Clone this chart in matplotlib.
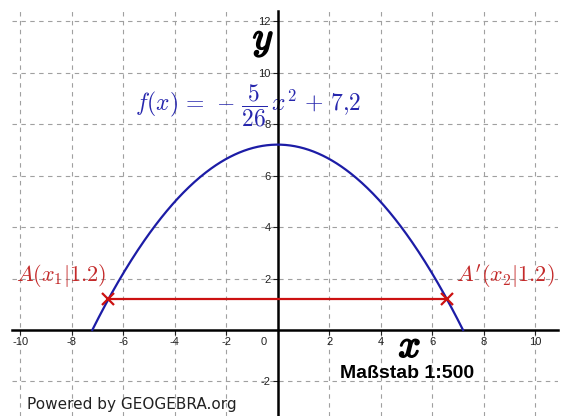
import numpy as np
import matplotlib.pyplot as plt
import matplotlib.patheffects as pe

plt.rcParams['mathtext.fontset'] = 'cm'

# parabola f(x) = -a*x^2 + c, and the horizontal chord at height y_level
a = 5 / 36
c = 7.2
y_level = 1.2

x_ticks = [-10, -8, -6, -4, -2, 2, 4, 6, 8, 10]
y_ticks = [-2, 2, 4, 6, 8, 10, 12]

blue = '#1c1ca6'
red = '#cc1111'
grid_gray = '#a0a0a0'

fig = plt.figure(figsize=(5.62, 4.16), dpi=100)
ax = fig.add_axes([12 / 562, 0, 546 / 562, 405 / 416])
ax.set_xlim(-10.32, 10.89)
ax.set_ylim(-3.34, 12.39)

# axes through the origin
for side in ['top', 'right']:
    ax.spines[side].set_visible(False)
ax.spines['left'].set_position('zero')
ax.spines['bottom'].set_position('zero')
for side in ['left', 'bottom']:
    ax.spines[side].set_linewidth(1.8)
    ax.spines[side].set_color('black')
    ax.spines[side].set_zorder(3)

ax.set_xticks(x_ticks)
ax.set_yticks(y_ticks)
ax.set_xticklabels([str(t) for t in x_ticks])
ax.set_yticklabels([str(t) for t in y_ticks])
ax.tick_params(axis='both', direction='out', length=3.5, width=0.8,
               colors='#222222', labelsize=8, pad=1.5)
for lab in ax.get_xticklabels() + ax.get_yticklabels():
    lab.set_family('Liberation Sans')

ax.grid(True, color=grid_gray, linestyle=(0, (4, 4)), linewidth=0.8)
ax.set_axisbelow(True)

ax.text(-0.55, -0.45, '0', ha='center', va='center', fontsize=8,
        family='Liberation Sans', color='#222222')

# parabola down to the x-axis
root = np.sqrt(c / a)
xs = np.linspace(-root, root, 400)
ax.plot(xs, -a * xs ** 2 + c, color=blue, linewidth=1.6, zorder=4)

# chord between A and A'
xa = np.sqrt((c - y_level) / a)
ax.plot([-xa, xa], [y_level, y_level], color=red, linewidth=1.6, zorder=5)
ax.plot([-xa, xa], [y_level, y_level], linestyle='none', marker='x',
        markersize=8, markeredgewidth=1.6, color=red, zorder=6)

ax.text(-8.4, 2.1, r'$A(x_1|1.2)$', color='#c42a2a', fontsize=16,
        ha='center', va='center')
ax.text(8.85, 2.1, r"$A'(x_2|1.2)$", color='#c42a2a', fontsize=16,
        ha='center', va='center')

ax.text(-5.55, 8.72, r'$f(x)\,=\,-\,\dfrac{5}{26}\,x^2\,+\,7{,}2$',
        color='#2626ad', fontsize=17, ha='left', va='center')

# bold italic axis names
bold = [pe.withStroke(linewidth=1.3, foreground='black')]
ax.text(-0.56, 11.3, r'$y$', fontsize=28, ha='center', va='center',
        path_effects=bold)
ax.text(5.13, -0.62, r'$x$', fontsize=28, ha='center', va='center',
        path_effects=bold)

ax.text(5.03, -1.67, 'Maßstab 1:500', family='Liberation Sans',
        weight='bold', fontsize=14, ha='center', va='center')

fig.text(27 / 562, 1 - 404 / 416, 'Powered by GEOGEBRA.org',
         family='DejaVu Sans', fontsize=11, color='#222222',
         ha='left', va='center')

fig.savefig('out.png', dpi=100)
